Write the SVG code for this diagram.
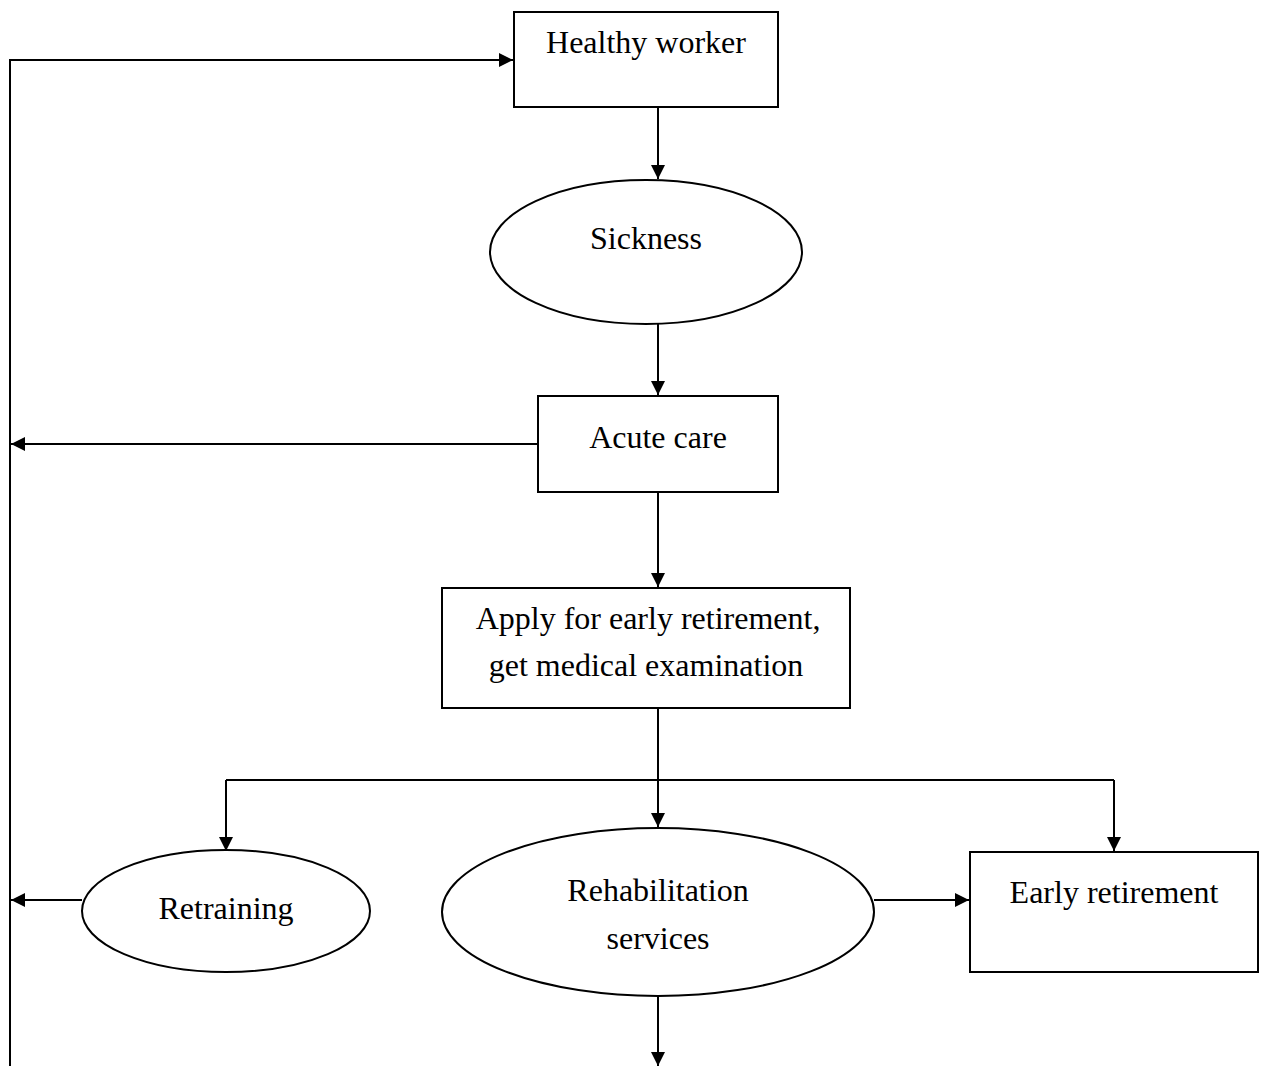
<svg xmlns="http://www.w3.org/2000/svg" width="1267" height="1066" viewBox="0 0 1267 1066">
<style>
.n{fill:#fff;stroke:#000;stroke-width:2}
.t{font-family:"Liberation Serif",serif;font-size:32px;fill:#000;text-anchor:middle}
.c{fill:none;stroke:#000;stroke-width:2}
</style>
<defs>
<marker id="a" viewBox="0 0 10 10" refX="10" refY="5" markerWidth="16" markerHeight="14" markerUnits="userSpaceOnUse" orient="auto">
<path d="M0,0 L10,5 L0,10 z" fill="#000"/>
</marker>
</defs>
<rect width="1267" height="1066" fill="#fff"/>
<g id="connectors">
<path class="c" d="M10,1066 L10,60 L513,60" marker-end="url(#a)"/>
<path class="c" d="M658,107 L658,179" marker-end="url(#a)"/>
<path class="c" d="M658,324 L658,395" marker-end="url(#a)"/>
<path class="c" d="M538,444 L11,444" marker-end="url(#a)"/>
<path class="c" d="M658,492 L658,587" marker-end="url(#a)"/>
<path class="c" d="M658,708 L658,827" marker-end="url(#a)"/>
<path class="c" d="M226,780 L1114,780"/>
<path class="c" d="M226,780 L226,851" marker-end="url(#a)"/>
<path class="c" d="M1114,780 L1114,851" marker-end="url(#a)"/>
<path class="c" d="M82,900 L11,900" marker-end="url(#a)"/>
<path class="c" d="M874,900 L969,900" marker-end="url(#a)"/>
<path class="c" d="M658,996 L658,1066" marker-end="url(#a)"/>
</g>
<g id="healthy">
<rect class="n" x="514" y="12" width="264" height="95"/>
<text class="t" x="646" y="53">Healthy worker</text>
</g>
<g id="sickness">
<ellipse class="n" cx="646" cy="252" rx="156" ry="72"/>
<text class="t" x="646" y="249">Sickness</text>
</g>
<g id="acute">
<rect class="n" x="538" y="396" width="240" height="96"/>
<text class="t" x="658" y="448">Acute care</text>
</g>
<g id="apply">
<rect class="n" x="442" y="588" width="408" height="120"/>
<text class="t" x="648" y="629">Apply for early retirement,</text>
<text class="t" x="646" y="676">get medical examination</text>
</g>
<g id="retraining">
<ellipse class="n" cx="226" cy="911" rx="144" ry="61"/>
<text class="t" x="226" y="919">Retraining</text>
</g>
<g id="rehab">
<ellipse class="n" cx="658" cy="912" rx="216" ry="84"/>
<text class="t" x="658" y="901">Rehabilitation</text>
<text class="t" x="658" y="949">services</text>
</g>
<g id="early">
<rect class="n" x="970" y="852" width="288" height="120"/>
<text class="t" x="1114" y="903">Early retirement</text>
</g>
</svg>
